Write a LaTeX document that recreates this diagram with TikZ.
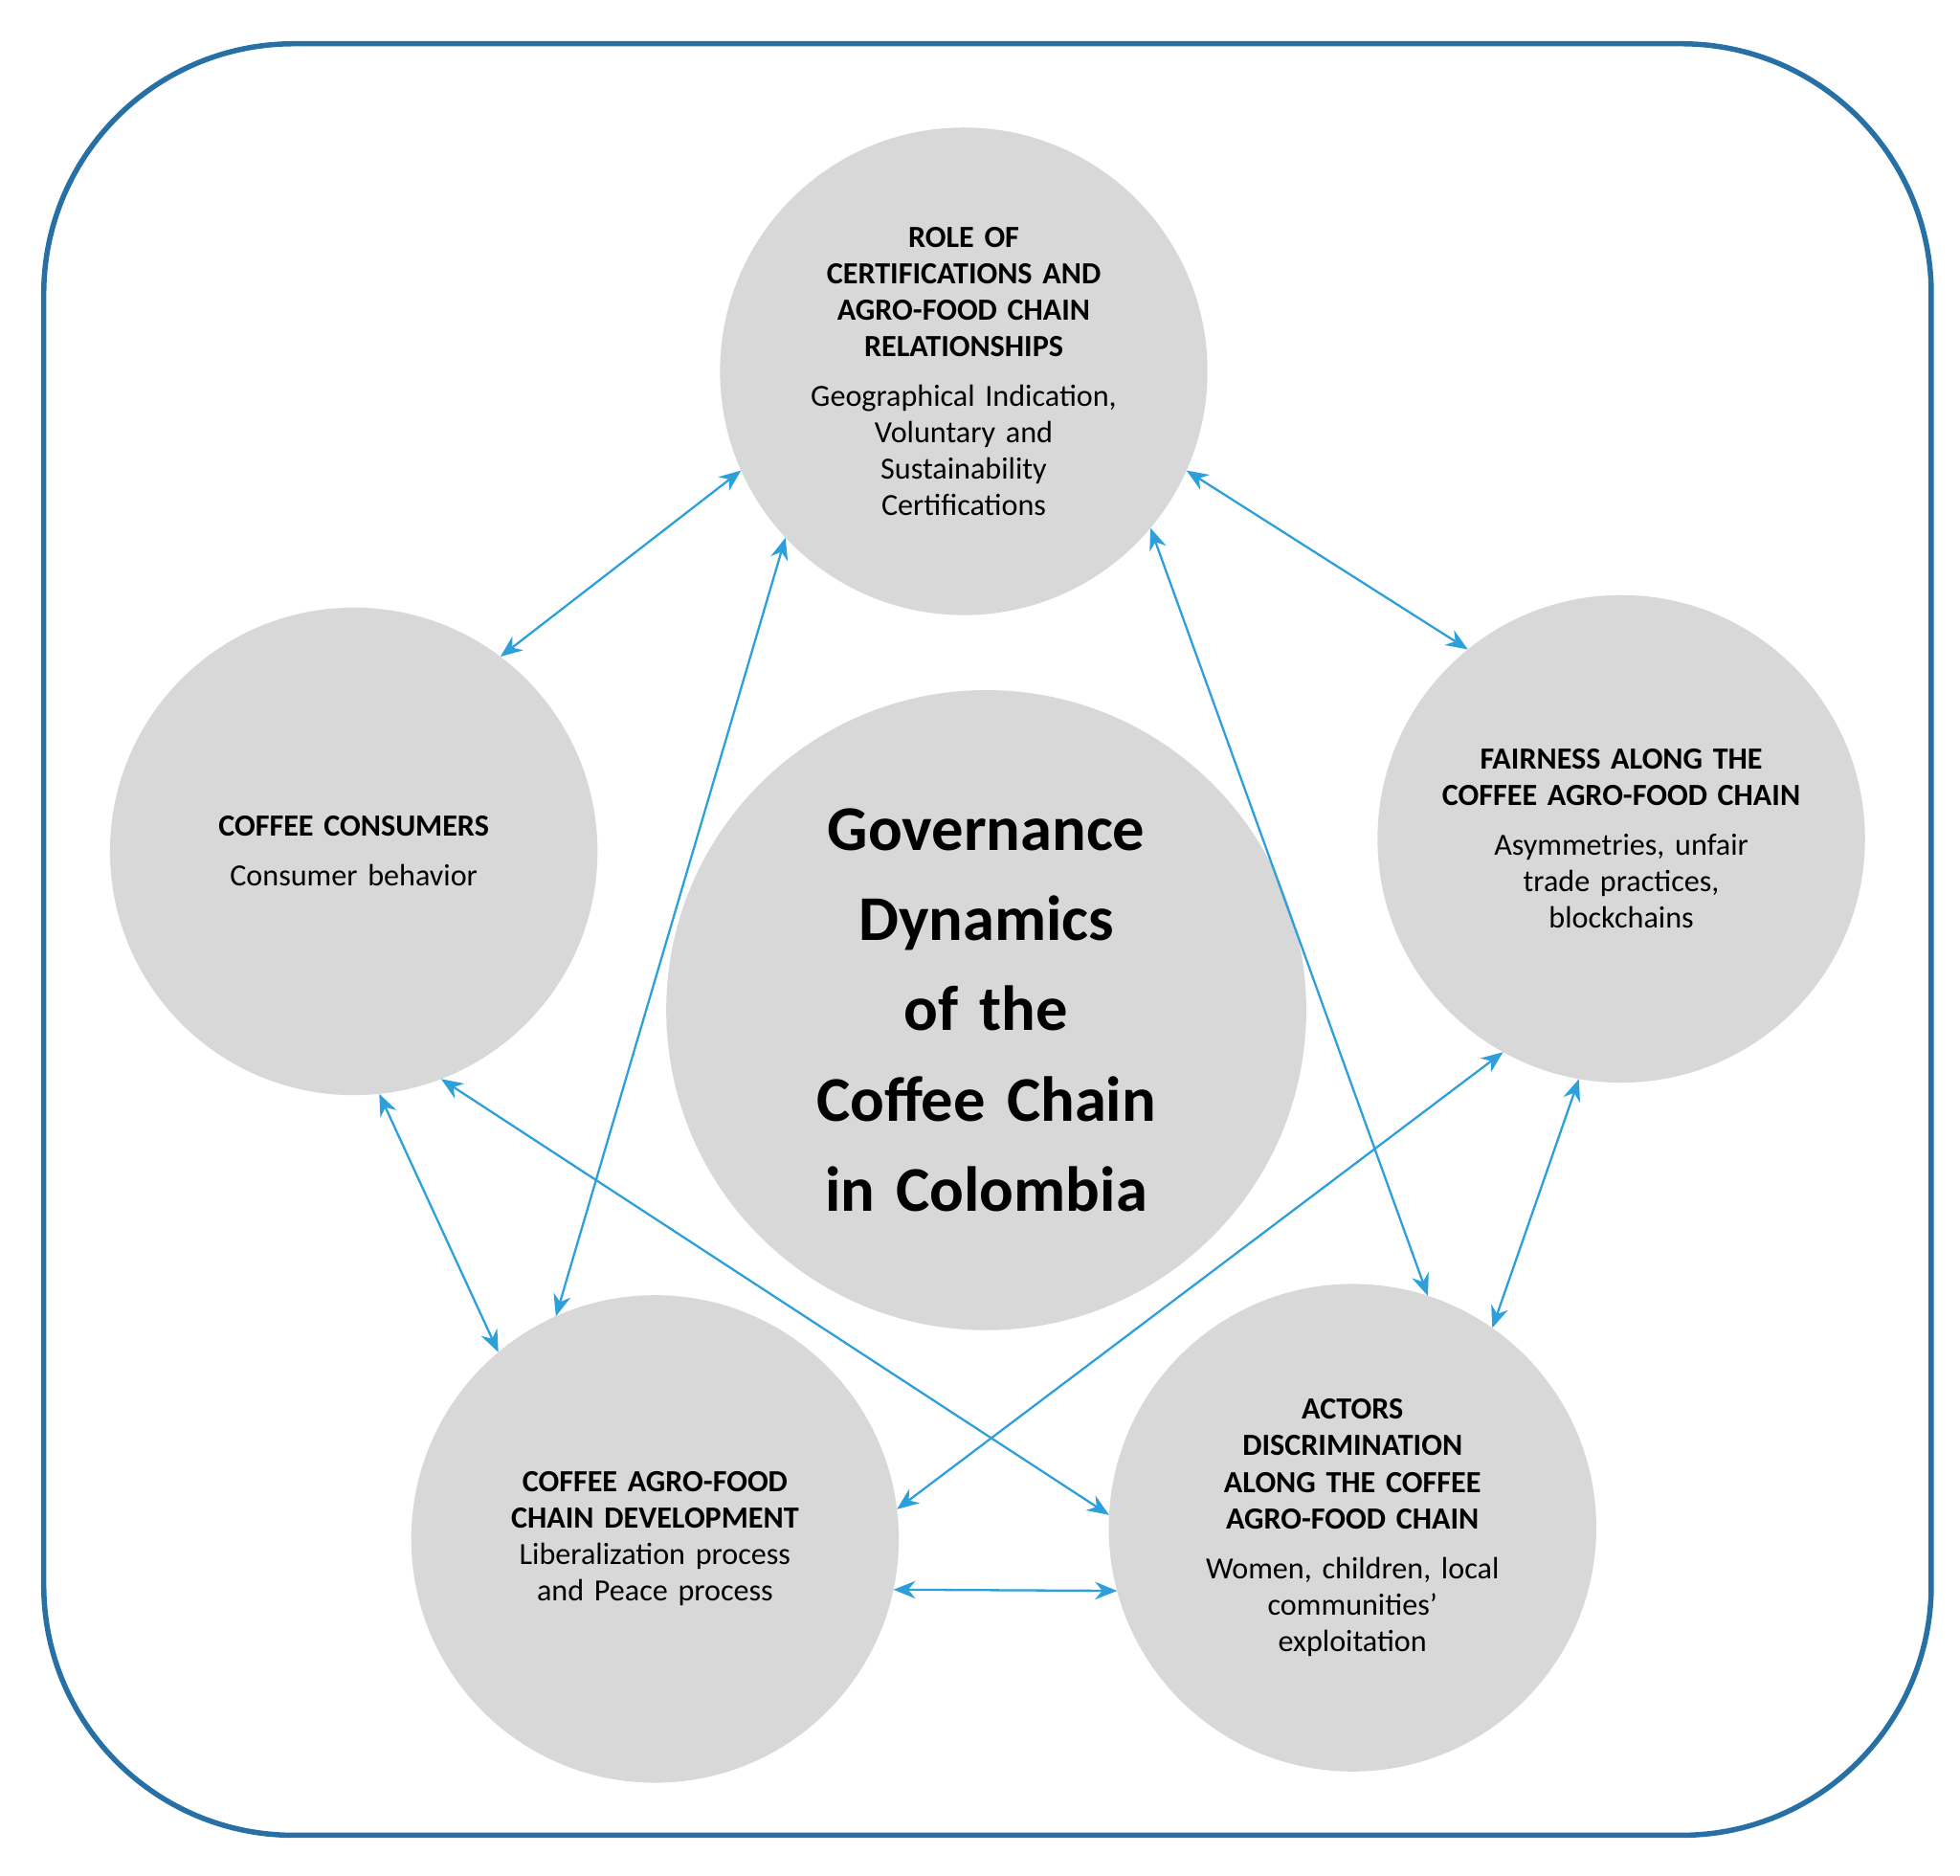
\documentclass[tikz,border=0pt]{standalone}
\usepackage{fontspec}
\setmainfont{Carlito}
\usetikzlibrary{arrows.meta}
\definecolor{frameblue}{RGB}{38,112,165}
\definecolor{arrowblue}{RGB}{45,160,220}
\definecolor{circgray}{RGB}{216,216,216}

\begin{document}
\begin{tikzpicture}[
    topic/.style={circle, fill=circgray, minimum size=3.9cm, inner sep=0pt,
        outer sep=0pt, text width=3cm, align=center,
        font=\fontsize{7}{8.3}\selectfont},
    hub/.style={circle, fill=circgray, minimum size=5cm, inner sep=0pt,
        outer sep=0pt, text width=4cm, align=center,
        font=\fontsize{14.5}{20.5}\selectfont\bfseries},
    link/.style={draw=arrowblue, line width=0.5pt,
        {Stealth[length=5pt,width=4pt]}-{Stealth[length=5pt,width=4pt]}}
]
    \useasboundingbox (0,0) rectangle (15.68,-15.0);
    \draw [frameblue, line width=1.2pt, rounded corners=2cm]
        (0.35,-0.35) rectangle (15.45,-14.68);

    \node [hub] (gov) at (7.89,-8.08)
        {Governance\\Dynamics\\of the\\Coffee Chain\\in Colombia};

    \node [topic] (cert) at (7.71,-2.97)
        {\textbf{ROLE OF\\CERTIFICATIONS AND AGRO-FOOD CHAIN RELATIONSHIPS}\\[3pt]
         Geographical Indication,\\Voluntary and\\Sustainability\\Certifications};
    \node [topic] (cons) at (2.83,-6.81)
        {\textbf{COFFEE CONSUMERS}\\[3pt]Consumer behavior};
    \node [topic] (fair) at (12.97,-6.71)
        {\textbf{FAIRNESS ALONG THE COFFEE AGRO-FOOD CHAIN}\\[3pt]
         Asymmetries, unfair\\trade practices,\\blockchains};
    \node [topic] (dev) at (5.24,-12.31)
        {\textbf{COFFEE AGRO-FOOD CHAIN DEVELOPMENT}\\
         Liberalization process\\and Peace process};
    \node [topic] (act) at (10.82,-12.22)
        {\textbf{ACTORS\\DISCRIMINATION\\ALONG THE COFFEE\\AGRO-FOOD CHAIN}\\[3pt]
         Women, children, local\\communities'\\exploitation};

    % links between the topics
    \draw [link] (cert.204.6) -- (cons.53.8);
    \draw [link] (cert.336) -- (fair.129.8);
    \draw [link] (cert.223.8) -- (dev.114.4);
    \draw [link] (cert.320.5) -- (act.72.1);
    \draw [link] (cons.276) -- (dev.130.7);
    \draw [link] (cons.291.7) -- (act.177);
    \draw [link] (fair.241.1) -- (dev.7);
    \draw [link] (fair.260.5) -- (act.55.5);
    \draw [link] (dev.348.5) -- (act.195);
\end{tikzpicture}
\end{document}
